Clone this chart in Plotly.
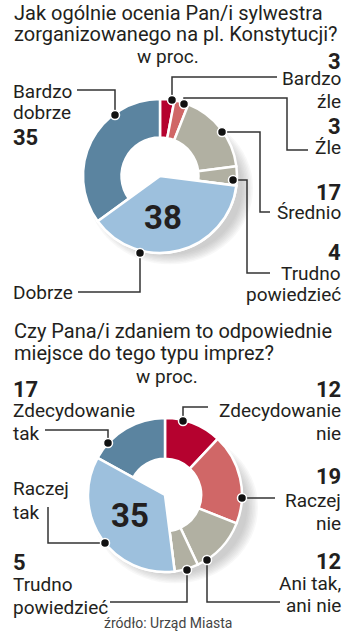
import plotly.graph_objects as go

W, H = 355, 640

# ---------------- data ----------------
q1_labels = ["Bardzo źle", "Źle", "Średnio", "Trudno powiedzieć", "Dobrze", "Bardzo dobrze"]
q1_values = [3, 3, 17, 4, 38, 35]
q2_labels = ["Zdecydowanie nie", "Raczej nie", "Ani tak, ani nie", "Trudno powiedzieć", "Raczej tak", "Zdecydowanie tak"]
q2_values = [12, 19, 12, 5, 35, 17]

q1_title = ["Jak ogólnie ocenia Pan/i sylwestra", "zorganizowanego na pl. Konstytucji?"]
q2_title = ["Czy Pana/i zdaniem to odpowiednie", "miejsce do tego typu imprez?"]
unit = "w proc."
source = "źródło: Urząd Miasta"

# ---------------- styles ----------------
RED = "#b5022f"
SALMON = "#d06767"
GREY = "#b1b0a2"
LBLUE = "#9dc0dd"
SBLUE = "#5b84a0"
TXT = "#231f20"
colors = [RED, SALMON, GREY, GREY, LBLUE, SBLUE]
FONT = "Roboto"


def px(x):
    return x / W


def py(y):
    return 1 - y / H


fig = go.Figure()
shapes = []


def donut(values, labels, cx, cy, r, hole, big_idx):
    # soft drop shadow
    for k in range(8):
        rr = r + 6 - k * 1.5
        shapes.append(dict(type="circle", xref="paper", yref="paper", layer="below",
                           x0=px(cx + 10 - rr), x1=px(cx + 10 + rr),
                           y0=py(cy + 12 + rr * 0.92), y1=py(cy + 12 - rr * 0.92),
                           fillcolor="rgba(120,120,120,0.05)", line=dict(width=0)))
    # keep the hole white
    hr = r * hole + 3
    shapes.append(dict(type="circle", xref="paper", yref="paper", layer="below",
                       x0=px(cx - hr), x1=px(cx + hr), y0=py(cy + hr), y1=py(cy - hr),
                       fillcolor="white", line=dict(width=0)))
    dom = dict(x=[px(cx - r), px(cx + r)], y=[py(cy + r), py(cy - r)])
    fig.add_trace(go.Pie(values=values, labels=labels, sort=False, direction="clockwise",
                         rotation=0, hole=hole, domain=dom, textinfo="none",
                         hoverinfo="label+value", showlegend=False,
                         marker=dict(colors=colors, line=dict(color="white", width=2.5))))
    wedge_cols = [c if i == big_idx else "rgba(0,0,0,0)" for i, c in enumerate(colors)]
    wedge_w = [2.5 if i == big_idx else 0 for i in range(len(values))]
    fig.add_trace(go.Pie(values=values, labels=labels, sort=False, direction="clockwise",
                         rotation=0, hole=0, domain=dom, textinfo="none",
                         hoverinfo="skip", showlegend=False,
                         marker=dict(colors=wedge_cols, line=dict(color="white", width=wedge_w))))


donut(q1_values, q1_labels, 160, 176, 77, 0.5, 4)
donut(q2_values, q2_labels, 165, 495, 77, 0.47, 4)

ann = []


def text(x, y, s, size=19, bold=False, anchor="left", color=TXT):
    ann.append(dict(x=px(x), y=py(y), xref="paper", yref="paper", text=f"<b>{s}</b>" if bold else s,
                    showarrow=False, xanchor=anchor, yanchor="middle", borderpad=0,
                    font=dict(family=FONT, size=size, color=color)))


# titles
TS = 20
text(13, 13, q1_title[0], TS)
text(13, 34, q1_title[1], TS)
text(168, 56, unit, 19, anchor="center")
text(13, 331, q2_title[0], TS)
text(13, 353, q2_title[1], TS)
text(167, 376, unit, 19, anchor="center")

R = 342
L = 12
NUM = 22
# chart 1 labels
text(R, 61, str(q1_values[0]), NUM, True, "right")
text(R, 79, "Bardzo", anchor="right")
text(R, 101, "źle", anchor="right")
text(R, 126, str(q1_values[1]), NUM, True, "right")
text(R, 148, "Źle", anchor="right")
text(R, 192, str(q1_values[2]), NUM, True, "right")
text(R, 213, "Średnio", anchor="right")
text(R, 252, str(q1_values[3]), NUM, True, "right")
text(R, 273, "Trudno", anchor="right")
text(R, 294, "powiedzieć", anchor="right")
text(L, 91, "Bardzo")
text(L, 113, "dobrze")
text(L, 137, str(q1_values[5]), NUM, True)
text(L, 292, "Dobrze")
text(163, 218, str(q1_values[4]), 33, True, "center")

# chart 2 labels
text(L, 389, str(q2_values[5]), NUM, True)
text(L, 410, "Zdecydowanie")
text(L, 433, "tak")
text(R, 389, str(q2_values[0]), NUM, True, "right")
text(R, 410, "Zdecydowanie", anchor="right")
text(R, 433, "nie", anchor="right")
text(R, 476, str(q2_values[1]), NUM, True, "right")
text(R, 500, "Raczej", anchor="right")
text(R, 523, "nie", anchor="right")
text(R, 561, str(q2_values[2]), NUM, True, "right")
text(R, 583, "Ani tak,", anchor="right")
text(R, 605, "ani nie", anchor="right")
text(L, 488, "Raczej")
text(L, 512, "tak")
text(L, 562, str(q2_values[3]), NUM, True)
text(L, 584, "Trudno")
text(L, 607, "powiedzieć")
text(130, 515, str(q2_values[4]), 33, True, "center")
text(168, 623, source, 14, False, "center", "#444")

# leader lines (pixel paths) and anchor dots
leaders = [
    [(172, 100), (172, 77), (277, 77)],
    [(184, 104), (184, 98), (287, 98), (287, 150), (308, 150)],
    [(222, 132), (260, 132), (260, 212), (270, 212)],
    [(233, 180), (247, 180), (247, 273), (270, 273)],
    [(115, 115), (115, 90), (77, 90)],
    [(140, 253), (140, 292), (78, 292)],
    [(108, 443), (108, 430), (45, 430)],
    [(105, 543), (48, 543), (48, 507)],
    [(187, 570), (187, 602), (110, 602)],
    [(207, 560), (207, 602), (280, 602)],
    [(242, 498), (275, 498)],
    [(183, 421), (183, 407), (208, 407)],
]
for pts in leaders:
    path = "M " + " L ".join(f"{px(x)},{py(y)}" for x, y in pts)
    shapes.append(dict(type="path", path=path, xref="paper", yref="paper",
                       line=dict(color="#333", width=1.5)))
for pts in leaders:
    x, y = pts[0]
    shapes.append(dict(type="circle", xref="paper", yref="paper",
                       x0=px(x - 4.5), x1=px(x + 4.5), y0=py(y + 4.5), y1=py(y - 4.5),
                       fillcolor="#111", line=dict(color="white", width=1.5)))

fig.update_layout(width=W, height=H, margin=dict(l=0, r=0, t=0, b=0),
                  paper_bgcolor="white", plot_bgcolor="white",
                  annotations=ann, shapes=shapes, showlegend=False)
fig.write_html("out.html", config={"displayModeBar": False})
